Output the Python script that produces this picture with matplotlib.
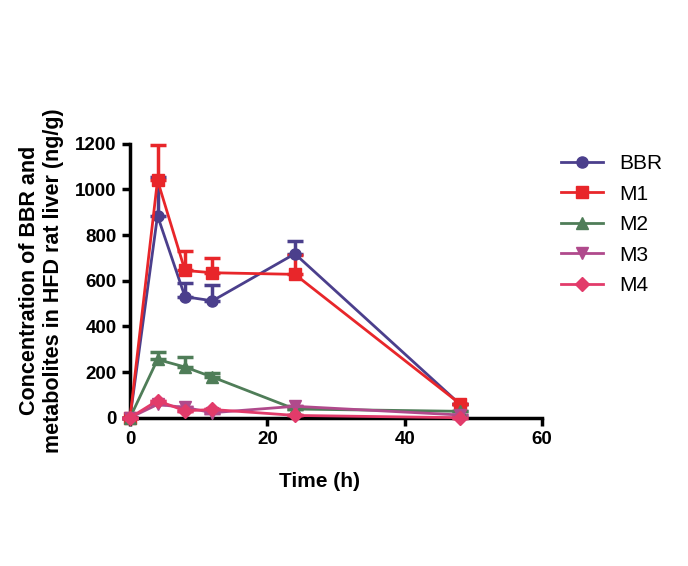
import matplotlib.pyplot as plt

plt.rcParams['font.family'] = ['Liberation Sans', 'DejaVu Sans']

time_h = [0, 4, 8, 12, 24, 48]
series_names = ['BBR', 'M1', 'M2', 'M3', 'M4']
bbr = [0, 885, 530, 512, 718, 60]
bbr_err = [0, 170, 60, 68, 55, 0]
m1 = [0, 1040, 645, 635, 628, 62]
m1_err = [0, 155, 85, 65, 85, 0]
m2 = [0, 255, 222, 178, 38, 28]
m2_err = [0, 32, 45, 20, 0, 0]
m3 = [0, 58, 45, 22, 50, 12]
m3_err = [0, 0, 0, 0, 0, 0]
m4 = [0, 75, 30, 36, 10, 0]
m4_err = [0, 0, 0, 0, 0, 0]

colors = ['#4b3f8c', '#e8262a', '#4f7d58', '#b04a8c', '#e23b6a']
markers = ['o', 's', '^', 'v', 'D']
sizes = [8, 8, 8, 8, 7]

fig = plt.figure(figsize=(6.88, 5.66), dpi=100)
ax = fig.add_axes([0.189, 0.262, 0.599, 0.484])

values = [bbr, m1, m2, m3, m4]
errors = [bbr_err, m1_err, m2_err, m3_err, m4_err]
for name, y, e, c, m, s in zip(series_names, values, errors, colors, markers, sizes):
    ax.errorbar(time_h, y, yerr=[[0] * len(e), e], color=c, marker=m, markersize=s,
                linewidth=2, elinewidth=2.5, capsize=6, capthick=2.5, label=name,
                clip_on=False, zorder=3)

ax.set_xlim(0, 60)
ax.set_ylim(0, 1200)
ax.set_xticks([0, 20, 40, 60])
ax.set_yticks(range(0, 1201, 200))
for side in ['top', 'right']:
    ax.spines[side].set_visible(False)
for side in ['left', 'bottom']:
    ax.spines[side].set_linewidth(2.5)
ax.tick_params(width=2.5, length=6, labelsize=13.5)
for lbl in ax.get_xticklabels() + ax.get_yticklabels():
    lbl.set_fontweight('bold')

ax.set_xlabel('Time (h)', fontsize=15, fontweight='bold', labelpad=18)
ax.xaxis.set_label_coords(0.46, -0.2)
ax.set_ylabel('Concentration of BBR and\nmetabolites in HFD rat liver (ng/g)',
              fontsize=15.5, fontweight='bold', labelpad=8)

handles, labels = ax.get_legend_handles_labels()
handles = [h[0] for h in handles]
ax.legend(handles, labels, loc='upper left', bbox_to_anchor=(1.0, 1.03),
          frameon=False, fontsize=15, handlelength=2.0, labelspacing=0.55)

fig.savefig('out.png', dpi=100)
